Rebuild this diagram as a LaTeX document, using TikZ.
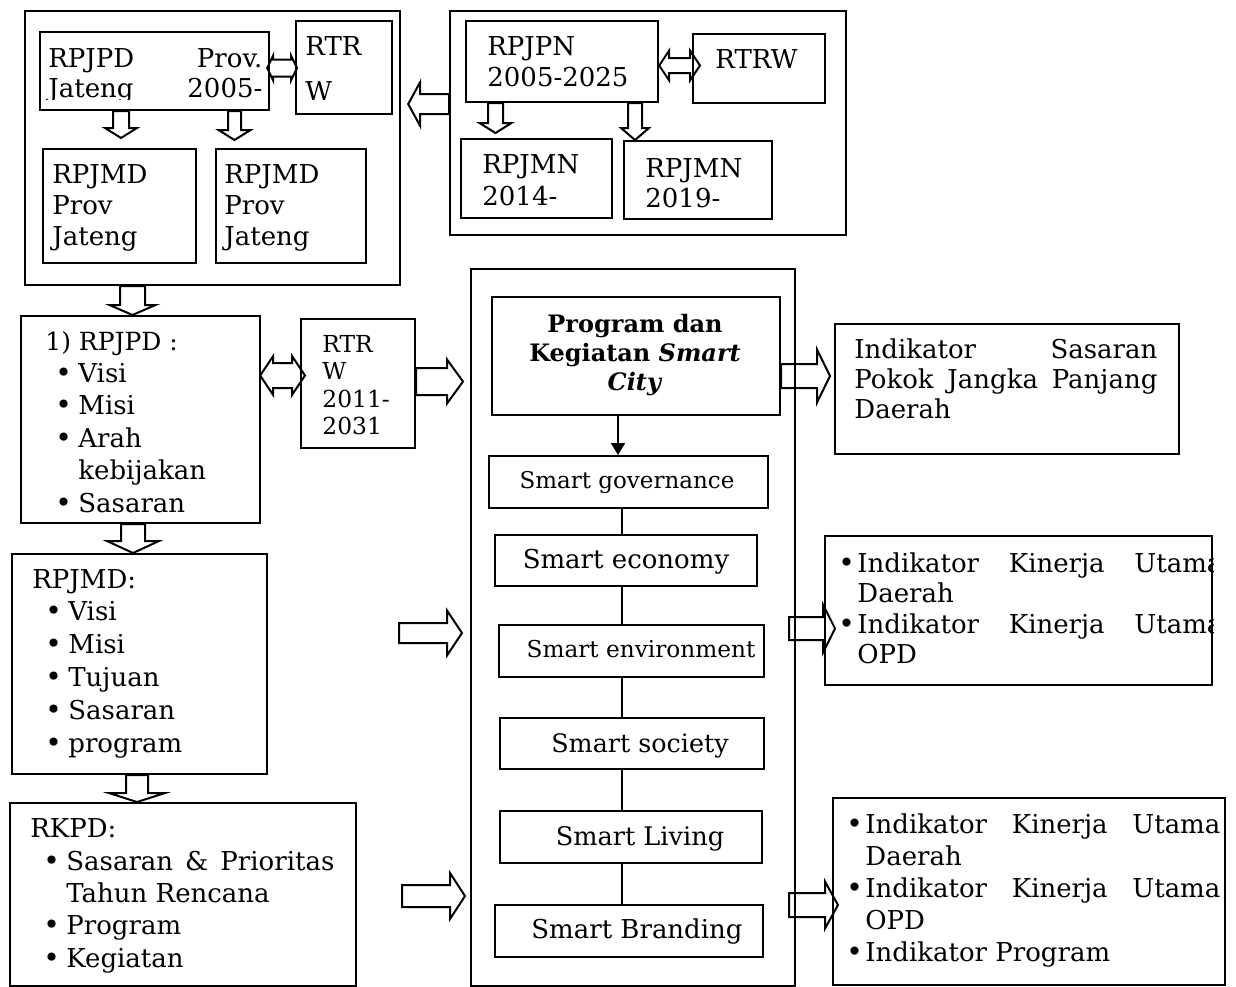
\documentclass[tikz,border=0pt]{standalone}
\usepackage{fontspec}
\setmainfont{DejaVu Serif}
\usetikzlibrary{calc,arrows.meta}
\tikzset{
  box/.style={draw, line width=1.1pt, inner sep=0pt, anchor=north west},
  txt/.style={inner sep=0pt, anchor=base west},
  ctxt/.style={inner sep=0pt, anchor=base},
  blk/.style={draw, line width=1pt, line join=miter},
  conn/.style={draw, line width=1pt},
}
\newcommand\bx[5]{\node[box, minimum width={(#4-#2)*0.5pt}, minimum height={(#5-#3)*0.5pt}] (#1) at (#2,#3) {};}
\newcommand\fs[2]{\fontsize{#1}{#2}\selectfont}
\newcommand\tl[1]{\parbox[t]{240pt}{\leavevmode#1}}
\newcommand\tc[1]{\parbox[t]{200pt}{\centering #1}}
\newcommand\bul[1]{\makebox[#1][l]{\fontsize{14}{14}\selectfont\textbullet}}
% down block arrow: x(px), start, tip, shaft half, head half, head length (px)
\newcommand\arrD[6]{\draw[blk] let \p1=#2, \p2=#3 in
 ({(#1-#4)*0.5pt},\y1) -- ({(#1-#4)*0.5pt},{\y2+#6*0.5pt}) -- ({(#1-#5)*0.5pt},{\y2+#6*0.5pt}) -- ({#1*0.5pt},\y2) -- ({(#1+#5)*0.5pt},{\y2+#6*0.5pt}) -- ({(#1+#4)*0.5pt},{\y2+#6*0.5pt}) -- ({(#1+#4)*0.5pt},\y1) -- cycle;}
% right block arrow: y(px), start, tip, shaft half, head half, head length
\newcommand\arrR[6]{\draw[blk] let \p1=#2, \p2=#3 in
 (\x1,{-(#1-#4)*0.5pt}) -- ({\x2-#6*0.5pt},{-(#1-#4)*0.5pt}) -- ({\x2-#6*0.5pt},{-(#1-#5)*0.5pt}) -- (\x2,{-#1*0.5pt}) -- ({\x2-#6*0.5pt},{-(#1+#5)*0.5pt}) -- ({\x2-#6*0.5pt},{-(#1+#4)*0.5pt}) -- (\x1,{-(#1+#4)*0.5pt}) -- cycle;}
% left block arrow
\newcommand\arrL[6]{\draw[blk] let \p1=#2, \p2=#3 in
 (\x1,{-(#1-#4)*0.5pt}) -- ({\x2+#6*0.5pt},{-(#1-#4)*0.5pt}) -- ({\x2+#6*0.5pt},{-(#1-#5)*0.5pt}) -- (\x2,{-#1*0.5pt}) -- ({\x2+#6*0.5pt},{-(#1+#5)*0.5pt}) -- ({\x2+#6*0.5pt},{-(#1+#4)*0.5pt}) -- (\x1,{-(#1+#4)*0.5pt}) -- cycle;}
% double horizontal block arrow: left tip, right tip
\newcommand\arrLR[6]{\draw[blk] let \p1=#2, \p2=#3 in
 (\x1,{-#1*0.5pt}) -- ({\x1+#6*0.5pt},{-(#1-#5)*0.5pt}) -- ({\x1+#6*0.5pt},{-(#1-#4)*0.5pt}) -- ({\x2-#6*0.5pt},{-(#1-#4)*0.5pt}) -- ({\x2-#6*0.5pt},{-(#1-#5)*0.5pt}) -- (\x2,{-#1*0.5pt}) -- ({\x2-#6*0.5pt},{-(#1+#5)*0.5pt}) -- ({\x2-#6*0.5pt},{-(#1+#4)*0.5pt}) -- ({\x1+#6*0.5pt},{-(#1+#4)*0.5pt}) -- ({\x1+#6*0.5pt},{-(#1+#5)*0.5pt}) -- cycle;}
\begin{document}
\begin{tikzpicture}[x=0.5pt,y=-0.5pt]
\useasboundingbox (0,0) rectangle (1236,986);
% ---------- boxes ----------
\bx{tl}{24}{10}{399}{284}
\bx{rpP}{39}{31}{268}{109}
\bx{rw1}{295}{20}{391}{113}
\bx{md1}{42}{148}{195}{262}
\bx{md2}{215}{148}{365}{262}
\bx{tr}{449}{10}{845}{234}
\bx{pn}{465}{20}{657}{101}
\bx{rw2}{692}{33}{824}{102}
\bx{mn1}{460}{138}{611}{217}
\bx{mn2}{623}{140}{771}{218}
\bx{rp}{20}{315}{259}{522}
\bx{rw3}{300}{318}{414}{447}
\bx{md}{11}{553}{266}{773}
\bx{rk}{9}{802}{355}{985}
\bx{big}{470}{268}{794}{985}
\bx{prog}{491}{296}{779}{414}
\bx{gov}{488}{455}{767}{507}
\bx{eco}{494}{534}{756}{585}
\bx{env}{498}{624}{763}{676}
\bx{soc}{499}{717}{763}{768}
\bx{liv}{499}{810}{761}{862}
\bx{bra}{494}{904}{762}{956}
\bx{r1}{834}{323}{1178}{453}
\bx{r2}{824}{535}{1211}{684}
\bx{r3}{832}{797}{1224}{984}
% ---------- texts ----------
\begin{scope}
\clip (39,31) rectangle (268,99);
\node[txt, font=\fs{13}{15}] (trpP) at (48,67) {\tl{\hbox to 107pt{RPJPD\hfill Prov.}\\\hbox to 107pt{Jateng\hfill 2005-}}};
\end{scope}
\node[txt, font=\fs{13}{15}] (trw1) at (305,55) {\tl{RTR\\[7.5pt]W}};
\node[txt, font=\fs{13}{15.5}] (tmd1) at (52,183) {\tl{RPJMD\\Prov\\Jateng}};
\node[txt, font=\fs{13}{15.5}] (tmd2) at (224,183) {\tl{RPJMD\\Prov\\Jateng}};
\node[txt, font=\fs{13}{15.5}] (tpn) at (487,55) {\tl{RPJPN\\2005-2025}};
\node[txt, font=\fs{13}{15.5}] (trw2) at (715,68) {RTRW};
\node[txt, font=\fs{13}{16}] (tmn1) at (482,173) {\tl{RPJMN\\2014-}};
\node[txt, font=\fs{13}{15}] (tmn2) at (645,177) {\tl{RPJMN\\2019-}};
\node[txt, font=\fs{12.5}{16}] (trph) at (45,350) {1) RPJPD :};
\node[txt, font=\fs{13}{16.25}] (trp) at (45,382) {\tl{\hspace*{5pt}\bul{11.5pt}Visi\\\hspace*{5pt}\bul{11.5pt}Misi\\\hspace*{5pt}\bul{11.5pt}Arah\\\hspace*{16.5pt}kebijakan\\\hspace*{5pt}\bul{11.5pt}Sasaran}};
\node[txt, font=\fs{11.7}{13.8}] (trw3) at (322,352) {\tl{RTR\\W\\2011-\\2031}};
\node[txt, font=\fs{13}{16.5}] (tmdh) at (32,588) {RPJMD:};
\node[txt, font=\fs{13}{16.5}] (tmd) at (32,620) {\tl{\hspace*{6.5pt}\bul{11.5pt}Visi\\\hspace*{6.5pt}\bul{11.5pt}Misi\\\hspace*{6.5pt}\bul{11.5pt}Tujuan\\\hspace*{6.5pt}\bul{11.5pt}Sasaran\\\hspace*{6.5pt}\bul{11.5pt}program}};
\node[txt, font=\fs{13}{16.2}] (trkh) at (30,837) {RKPD:};
\node[txt, font=\fs{13}{16.2}] (trk) at (30,870) {\tl{\hspace*{6.5pt}\bul{11.5pt}\hbox to 134pt{Sasaran\hfill\&\hfill Prioritas}\\\hspace*{18pt}Tahun Rencana\\\hspace*{6.5pt}\bul{11.5pt}Program\\\hspace*{6.5pt}\bul{11.5pt}Kegiatan}};
\node[ctxt, font=\fs{12}{14.5}\bfseries] (tprog) at (635,332) {\tc{Program dan\\Kegiatan \textit{Smart}\\\textit{City}}};
\node[ctxt, font=\fs{11.5}{14}] (tgov) at (627,488) {Smart governance};
\node[ctxt, font=\fs{13}{14}] (teco) at (626,568) {Smart economy};
\node[ctxt, font=\fs{11.6}{14}] (tenv) at (641,657) {Smart environment};
\node[ctxt, font=\fs{12.7}{14}] (tsoc) at (640,752) {Smart society};
\node[ctxt, font=\fs{12.8}{14}] (tliv) at (640,845) {Smart Living};
\node[ctxt, font=\fs{13}{14}] (tbra) at (637,938) {Smart Branding};
\node[txt, font=\fs{13}{15}] (tr1) at (854,358) {\tl{\hbox to 151.5pt{Indikator\hfill Sasaran}\\\hbox to 151.5pt{Pokok\hfill Jangka\hfill Panjang}\\Daerah}};
\begin{scope}
\clip (r2.south west) rectangle (r2.north east);
\node[txt, font=\fs{13}{15.3}] (tr2) at (838,572) {\tl{\bul{9.5pt}\hbox to 182.5pt{Indikator\hfill Kinerja\hfill Utama}\\\hspace*{9.5pt}Daerah\\\bul{9.5pt}\hbox to 182.5pt{Indikator\hfill Kinerja\hfill Utama}\\\hspace*{9.5pt}OPD}};
\end{scope}
\node[txt, font=\fs{13}{16.1}] (tr3) at (846,833) {\tl{\bul{9.5pt}\hbox to 177.5pt{Indikator\hfill Kinerja\hfill Utama}\\\hspace*{9.5pt}Daerah\\\bul{9.5pt}\hbox to 177.5pt{Indikator\hfill Kinerja\hfill Utama}\\\hspace*{9.5pt}OPD\\\bul{9.5pt}Indikator Program}};
% ---------- block arrows ----------
\arrD{121}{(rpP.south)}{([yshift=5pt]md1.north)}{8}{16}{10}
\arrD{234.5}{(rpP.south)}{([yshift=4pt]md2.north)}{6.5}{16}{10}
\arrD{495.5}{(pn.south)}{([yshift=2.5pt]mn1.north)}{7.5}{16}{10}
\arrD{635}{(pn.south)}{(mn2.north)}{7}{14}{12}
\arrLR{68}{([xshift=-1.5pt]rpP.east)}{([xshift=1pt]rw1.west)}{8.5}{12.5}{6}
\arrLR{65.5}{(pn.east)}{([xshift=4pt]rw2.west)}{7.5}{15}{10}
\arrLR{375.5}{([xshift=-0.5pt]rp.east)}{([xshift=2.5pt]rw3.west)}{12.5}{19.5}{13}
\arrL{104}{(tr.west)}{([xshift=3.5pt]tl.east)}{10}{22}{12}
\arrD{132.5}{(tl.south)}{(rp.north)}{12.5}{23}{10}
\arrD{133}{(rp.south)}{(md.north)}{12}{26}{12}
\arrD{137}{(md.south)}{(rk.north)}{11}{28}{9}
\arrR{381.5}{(rw3.east)}{([xshift=-3.5pt]big.west)}{13.5}{22}{16}
\arrR{376}{(prog.east)}{([xshift=-2pt]r1.west)}{12}{26.5}{13}
\arrR{633}{([xshift=65.5pt]md.east)}{([xshift=-4pt]big.west)}{10}{22.5}{15}
\arrR{896}{([xshift=22.5pt]rk.east)}{([xshift=-2.5pt]big.west)}{11}{23}{15}
\arrR{628.5}{([xshift=-3.5pt]big.east)}{([xshift=5.5pt]r2.west)}{11.5}{24}{12}
\arrR{905}{([xshift=-3.5pt]big.east)}{([xshift=3pt]r3.west)}{12}{23.5}{13}
% ---------- thin connectors ----------
\coordinate (ax) at (618,0);
\coordinate (cx) at (622,0);
\draw[conn, -{Triangle[length=6pt,width=7pt]}] (prog.south -| ax) -- (gov.north -| ax);
\draw[conn] (gov.south -| cx) -- (eco.north -| cx);
\draw[conn] (eco.south -| cx) -- (env.north -| cx);
\draw[conn] (env.south -| cx) -- (soc.north -| cx);
\draw[conn] (soc.south -| cx) -- (liv.north -| cx);
\draw[conn] (liv.south -| cx) -- (bra.north -| cx);
\end{tikzpicture}
\end{document}
